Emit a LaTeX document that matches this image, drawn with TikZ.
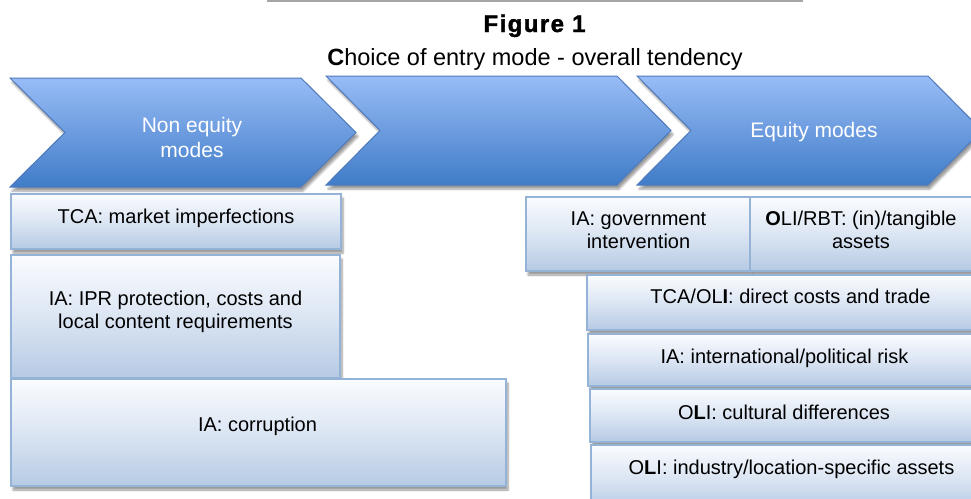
\documentclass[tikz,border=0pt]{standalone}
\usepackage{fontspec}
\setmainfont{Liberation Sans}
\usetikzlibrary{shadows.blur}
\definecolor{chevtop}{RGB}{152,188,246}
\definecolor{chevbot}{RGB}{64,124,200}
\definecolor{chevline}{RGB}{78,122,188}
\definecolor{boxtop}{RGB}{250,252,255}
\definecolor{boxbot}{RGB}{182,202,228}
\definecolor{boxline}{RGB}{149,179,215}
\definecolor{rulegray}{RGB}{165,165,165}
\begin{document}
\begin{tikzpicture}[x=1pt,y=1pt,
  chev/.style={draw=chevline, line width=1pt, top color=chevtop, bottom color=chevbot,
    blur shadow={shadow xshift=2pt, shadow yshift=-4pt, shadow blur steps=6, shadow opacity=40}},
  factbox/.style={draw=boxline, line width=1.5pt, top color=boxtop, bottom color=boxbot,
    middle color=boxtop!55!boxbot,
    blur shadow={shadow xshift=2pt, shadow yshift=-4pt, shadow blur steps=6, shadow opacity=40}},
  chevtext/.style={text=white, font=\fontsize{21}{25}\selectfont, align=center, inner sep=0pt},
  boxtext/.style={font=\fontsize{20}{23}\selectfont, align=center, inner sep=0pt},
]
\useasboundingbox (0,0) rectangle (971,-498);
\clip (0,0) rectangle (971,-498);

% top rule
\coordinate (ruleL) at (267,-0.8);
\coordinate (ruleR) at (803,-0.8);
\draw[rulegray, line width=1.6pt] (ruleL) -- (ruleR);

% titles
\node[anchor=base, font={\fontsize{24}{28}\selectfont\bfseries\addfontfeatures{LetterSpace=6,FakeBold=1.6}}] (fig) at (534.5,-32) {Figure 1};
\node[anchor=base, font=\fontsize{23.5}{28}\selectfont] (sub) at (535,-65) {\textbf{C}hoice of entry mode - overall tendency};

% chevrons
\path[chev] (10,-78) -- (301,-78) -- (356,-132.5) -- (301,-187) -- (10,-187) -- (65,-132.5) -- cycle;
\path[chev] (326,-76) -- (617,-76) -- (671,-130.5) -- (617,-185) -- (326,-185) -- (380,-130.5) -- cycle;
\path[chev] (637,-76) -- (928,-76) -- (982,-130.5) -- (928,-185) -- (637,-185) -- (691,-130.5) -- cycle;
\node[chevtext] (nonequity) at (192,-137.5) {Non equity\\modes};
\node[chevtext, anchor=base] (equity) at (814,-137) {Equity modes};

% left boxes
\path[factbox] (11,-194) rectangle (341,-249);
\node[boxtext, anchor=base] (tca) at (176,-223) {TCA: market imperfections};
\path[factbox] (11,-255) rectangle (340,-378);
\node[boxtext] (ipr) at (175.5,-312) {IA: IPR protection, costs and\\local content requirements};
\path[factbox] (11,-379) rectangle (506,-486);
\node[boxtext, anchor=base] (corr) at (257.5,-431) {IA: corruption};

% right boxes
\path[factbox] (526,-197) rectangle (750,-271);
\node[boxtext] (gov) at (638.5,-230) {IA: government\\intervention};
\path[factbox] (750,-197) rectangle (985,-271);
\node[boxtext] (rbt) at (861,-230) {\textbf{O}LI/RBT: (in)/tangible\\assets};
\path[factbox] (587,-275) rectangle (985,-330);
\node[boxtext, anchor=base] (trade) at (790.5,-303) {TCA/OL\textbf{I}: direct costs and trade};
\path[factbox] (588,-334) rectangle (985,-386);
\node[boxtext, anchor=base] (risk) at (784.5,-363) {IA: international/political risk};
\path[factbox] (590,-389) rectangle (985,-442);
\node[boxtext, anchor=base] (cult) at (784,-419) {O\textbf{L}I: cultural differences};
\path[factbox] (591,-445) rectangle (985,-510);
\node[boxtext, anchor=base] (ind) at (791.5,-474) {O\textbf{L}I: industry/location-specific assets};
\end{tikzpicture}
\end{document}
